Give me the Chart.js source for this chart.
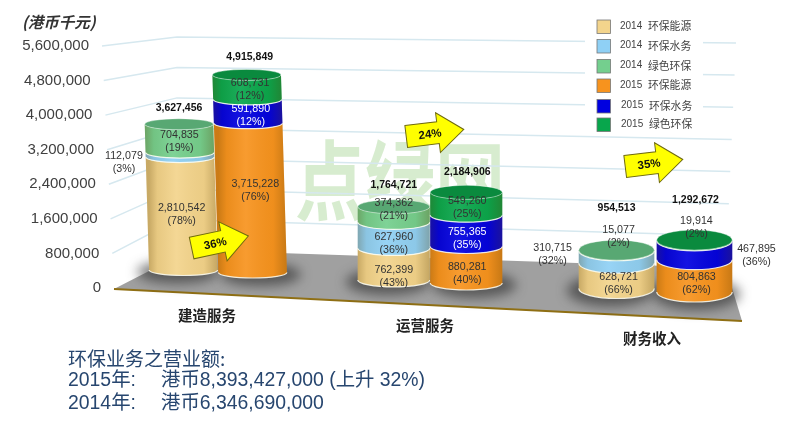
<!DOCTYPE html>
<html>
<head>
<meta charset="utf-8">
<style>
  html, body { margin: 0; padding: 0; background: #fff; }
  #wrap { width: 800px; height: 424px; position: relative; }
</style>
<script src="https://cdn.jsdelivr.net/npm/chart.js@4"></script>
</head>
<body>
<div id="wrap"><canvas id="c"></canvas></div>
<script>
// Data
const categories = ['建造服务', '运营服务', '财务收入'];
const yTicks = [0, 800000, 1600000, 2400000, 3200000, 4000000, 4800000, 5600000];

const energy2014 = [2810542, 762399, 628721];
const water2014 = [112079, 627960, 310715];
const green2014 = [704835, 374362, 15077];
const energy2015 = [3715228, 880281, 804863];
const water2015 = [591890, 755365, 467895];
const green2015 = [608731, 549260, 19914];

const pctEnergy2014 = ['78%', '43%', '66%'];
const pctWater2014 = ['3%', '36%', '32%'];
const pctGreen2014 = ['19%', '21%', '2%'];
const pctEnergy2015 = ['76%', '40%', '62%'];
const pctWater2015 = ['12%', '35%', '36%'];
const pctGreen2015 = ['12%', '25%', '2%'];

const totals2014 = ['3,627,456', '1,764,721', '954,513'];
const totals2015 = ['4,915,849', '2,184,906', '1,292,672'];
const growth = ['36%', '24%', '35%'];

const noteLines = ['环保业务之营业额:', '2015年:', '港币8,393,427,000 (上升 32%)', '2014年:', '港币6,346,690,000'];

// Fake perspective, per category
const floor2014 = [270, 280, 288.5];
const floor2015 = [272.5, 283, 292];
const heightScale = [0.93, 0.96, 0.93];
const ellipseRy = [5.5, 7, 10];
const lean = [0.03, 0, 0];
const catNudge = [0, -8, -2.5];
const sepScale = [0.99, 1.036, 1.114];
const widthScale = [0.98, 1.03, 1.08];
const lift2014 = [16, 22, 42];
const lift2015 = [18, 20, 40];

const FONT = '"Liberation Sans", Arial, sans-serif';
const CJK = '"Noto Sans CJK SC", "Liberation Sans", sans-serif';

// label shift from segment middle, "dataset,category": [dx, dy]
const labelNudge = {
  '0,0': [0, 1], '0,1': [0, 12], '0,2': [2, 8],
  '1,0': [-56, 8], '1,1': [0, 8], '1,2': [-64, -2],
  '2,0': [0, 3.5], '2,1': [0, -5], '2,2': [2, -14],
  '3,0': [5, -7], '3,1': [1, 9], '3,2': [2, 8],
  '4,0': [3, 4], '4,1': [1, 8], '4,2': [62, 5],
  '5,0': [3, 2], '5,1': [1, 4], '5,2': [2, -13]
};

// arrow centre and rotation
const arrows = [
  { x: 220, y: 242, rot: -12 },
  { x: 435, y: 133, rot: -7 },
  { x: 654, y: 163, rot: -7 }
];

function mk(label, data, pct, stack, color, top, labelColor) {
  return { label, data, pct, stack, backgroundColor: color, topColor: top, labelColor };
}

const datasets = [
  mk('2014 环保能源', energy2014, pctEnergy2014, '2014', '#f3d48c', '#e9c97d', ['#333', '#333', '#333']),
  mk('2014 环保水务', water2014, pctWater2014, '2014', '#8fd0f5', '#7cc0e6', ['#333', '#333', '#333']),
  mk('2014 绿色环保', green2014, pctGreen2014, '2014', '#74cf8e', '#58a873', ['#333', '#333', '#333']),
  mk('2015 环保能源', energy2015, pctEnergy2015, '2015', '#f7931e', '#e8851a', ['#333', '#333', '#333']),
  mk('2015 环保水务', water2015, pctWater2015, '2015', '#0000e0', '#0000c0', ['#fff', '#fff', '#333']),
  mk('2015 绿色环保', green2015, pctGreen2015, '2015', '#08a64c', '#0a8a3e', ['#333', '#333', '#333'])
];

// pixel geometry of one segment, from the bar element the library laid out
function geom(chart, dsIndex, i) {
  const el = chart.getDatasetMeta(dsIndex).data[i];
  const xs = chart.scales.x, zero = chart.scales.y.getPixelForValue(0);
  const center = xs.getPixelForValue(i);
  const floor = dsIndex < 3 ? floor2014[i] : floor2015[i];
  const k = heightScale[i];
  const top = floor - (zero - el.y) * k;
  const bot = floor - (zero - el.base) * k;
  const cx0 = center + catNudge[i] + (el.x - center) * sepScale[i];
  return {
    floor, top, bot, cx0,
    rx: el.width * widthScale[i] / 2,
    ry: ellipseRy[i],
    cxTop: cx0 - lean[i] * (floor - top),
    cxBot: cx0 - lean[i] * (floor - bot)
  };
}

function drawSegment(ctx, g, color) {
  const path = () => {
    ctx.beginPath();
    ctx.ellipse(g.cxTop, g.top, g.rx, g.ry, 0, 0, Math.PI, false);
    ctx.lineTo(g.cxBot - g.rx, g.bot);
    ctx.ellipse(g.cxBot, g.bot, g.rx, g.ry, 0, Math.PI, 0, true);
    ctx.closePath();
  };
  path();
  ctx.fillStyle = color;
  ctx.fill();
  const x0 = g.cxBot - g.rx;
  const sh = ctx.createLinearGradient(x0, 0, x0 + g.rx * 2, 0);
  sh.addColorStop(0, 'rgba(90,60,0,0.28)');
  sh.addColorStop(0.12, 'rgba(90,60,0,0.08)');
  sh.addColorStop(0.4, 'rgba(255,255,255,0.08)');
  sh.addColorStop(0.8, 'rgba(90,60,0,0.05)');
  sh.addColorStop(1, 'rgba(90,60,0,0.3)');
  path();
  ctx.fillStyle = sh;
  ctx.fill();
  // light rim along the lower front edge
  ctx.beginPath();
  ctx.ellipse(g.cxBot, g.bot, g.rx, g.ry, 0, 0, Math.PI, false);
  ctx.strokeStyle = 'rgba(255,255,245,0.85)';
  ctx.lineWidth = 1.2;
  ctx.stroke();
}

function drawArrow(ctx, a, text) {
  ctx.save();
  ctx.translate(a.x, a.y);
  ctx.rotate(a.rot * Math.PI / 180);
  ctx.beginPath();
  ctx.moveTo(-29, -11);
  ctx.lineTo(3, -11);
  ctx.lineTo(3, -20);
  ctx.lineTo(29, 0);
  ctx.lineTo(3, 20);
  ctx.lineTo(3, 11);
  ctx.lineTo(-29, 11);
  ctx.closePath();
  ctx.fillStyle = '#ffff00';
  ctx.fill();
  ctx.strokeStyle = '#6f6a10';
  ctx.lineWidth = 1;
  ctx.stroke();
  ctx.fillStyle = '#111';
  ctx.font = 'bold 11.5px ' + FONT;
  ctx.textAlign = 'center';
  ctx.textBaseline = 'middle';
  ctx.fillText(text, -5, 1);
  ctx.restore();
}

const cylinderPlugin = {
  id: 'cylinders',
  beforeDatasetsDraw(chart) {
    const ctx = chart.ctx, ys = chart.scales.y;
    const zero = ys.getPixelForValue(0);

    // watermark
    ctx.save();
    ctx.translate(400, 181);
    ctx.scale(1, 1.25);
    ctx.fillStyle = 'rgba(150,205,130,0.38)';
    ctx.font = 'bold 70px ' + CJK;
    ctx.textAlign = 'center';
    ctx.textBaseline = 'middle';
    ctx.fillText('点绿网', 0, 0);
    ctx.restore();

    // perspective gridlines
    ctx.save();
    ctx.strokeStyle = '#d6e8ef';
    ctx.lineWidth = 1.5;
    ys.ticks.forEach(t => {
      if (t.value === 0) return;
      const y = ys.getPixelForValue(t.value);
      const frac = (zero - y) / (zero - ys.top);
      ctx.beginPath();
      ctx.moveTo(102 + (1 - frac) * 12, y);
      ctx.lineTo(177, 250 - (zero - y) * 0.88);
      ctx.lineTo(726 + frac * 10, 268 - (zero - y) * 0.93);
      ctx.stroke();
    });
    ctx.restore();

    // legend backdrop breaks the top lines
    ctx.fillStyle = '#fff';
    ctx.fillRect(585, 14, 118, 118);

    // floor
    ctx.beginPath();
    ctx.moveTo(114, 289);
    ctx.lineTo(190, 250);
    ctx.lineTo(726, 268);
    ctx.lineTo(742, 321);
    ctx.closePath();
    ctx.fillStyle = '#a0a0a0';
    ctx.fill();
    ctx.beginPath();
    ctx.moveTo(114, 289);
    ctx.lineTo(742, 321);
    ctx.strokeStyle = '#8f6f14';
    ctx.lineWidth = 2;
    ctx.stroke();

    // soft shadows on the floor
    ctx.save();
    ctx.filter = 'blur(6px)';
    ctx.fillStyle = 'rgba(40,40,40,0.6)';
    categories.forEach((c, i) => {
      [0, 3].forEach(d => {
        const g = geom(chart, d, i);
        const off = d === 0 ? -6 : (i === 2 ? 2 : 8);
        ctx.beginPath();
        ctx.ellipse(g.cx0 + off, g.floor + 2, g.rx + 6, g.ry + 6, 0, 0, Math.PI * 2);
        ctx.fill();
      });
    });
    ctx.restore();

    // y tick labels walk right with the wall
    ctx.fillStyle = '#404040';
    ctx.font = '15px ' + FONT;
    ctx.textAlign = 'right';
    ctx.textBaseline = 'middle';
    ys.ticks.forEach(t => {
      const y = ys.getPixelForValue(t.value);
      ctx.fillText(t.value.toLocaleString('en-US'), 89 + (y - ys.top) / (zero - ys.top) * 12, y);
    });
  },
  beforeDatasetDraw() {
    return false; // cylinders are painted below
  },
  afterDatasetsDraw(chart) {
    const ctx = chart.ctx, xs = chart.scales.x;

    categories.forEach((c, i) => {
      [[0, 1, 2], [3, 4, 5]].forEach(group => {
        group.forEach(d => drawSegment(ctx, geom(chart, d, i), chart.data.datasets[d].backgroundColor));
        // top cap
        const last = group[2], g = geom(chart, last, i);
        ctx.beginPath();
        ctx.ellipse(g.cxTop, g.top, g.rx, g.ry, 0, 0, Math.PI * 2);
        ctx.fillStyle = chart.data.datasets[last].topColor;
        ctx.fill();
        ctx.strokeStyle = 'rgba(255,255,255,0.5)';
        ctx.lineWidth = 0.8;
        ctx.stroke();
      });
    });

    // segment labels
    ctx.textAlign = 'center';
    ctx.textBaseline = 'middle';
    ctx.font = '10.7px ' + FONT;
    chart.data.datasets.forEach((ds, d) => {
      ds.data.forEach((v, i) => {
        const g = geom(chart, d, i);
        const n = labelNudge[d + ',' + i];
        const x = (g.cxTop + g.cxBot) / 2 + n[0];
        const y = (g.top + g.bot) / 2 + n[1];
        ctx.fillStyle = ds.labelColor[i];
        ctx.fillText(v.toLocaleString('en-US'), x, y - 6.5);
        ctx.fillText('(' + ds.pct[i] + ')', x, y + 6.5);
      });
    });

    // stack totals
    ctx.font = 'bold 10.5px ' + FONT;
    ctx.fillStyle = '#111';
    categories.forEach((c, i) => {
      const a = geom(chart, 2, i), b = geom(chart, 5, i);
      ctx.fillText(totals2014[i], a.cxTop, a.top - lift2014[i]);
      ctx.fillText(totals2015[i], b.cxTop + (i === 0 ? 3 : 1), b.top - lift2015[i]);
    });

    arrows.forEach((a, i) => drawArrow(ctx, a, growth[i]));

    // category names step down with the floor
    ctx.font = 'bold 14.5px ' + CJK;
    ctx.fillStyle = '#222';
    categories.forEach((c, i) => {
      ctx.fillText(c, xs.getPixelForValue(i) + [-11, -13, -6][i], [315, 325, 338][i]);
    });

    // unit
    ctx.font = 'italic bold 15.5px ' + CJK;
    ctx.textAlign = 'left';
    ctx.fillStyle = '#333';
    ctx.fillText('(港币千元)', 22, 22);

    // legend
    const rowY = [27, 46.5, 66.5, 86, 106.5, 125];
    chart.data.datasets.forEach((ds, d) => {
      ctx.fillStyle = ds.backgroundColor;
      ctx.fillRect(597, rowY[d] - 7, 13.5, 13.5);
      ctx.strokeStyle = '#777';
      ctx.lineWidth = 0.8;
      ctx.strokeRect(597, rowY[d] - 7, 13.5, 13.5);
      const parts = ds.label.split(' ');
      ctx.fillStyle = '#444';
      ctx.font = '10px ' + FONT;
      ctx.fillText(parts[0], d > 3 ? 621 : 620, rowY[d] - 1);
      ctx.font = '10.8px ' + CJK;
      ctx.fillText(parts[1], d > 3 ? 649 : 648, rowY[d] - 1);
    });

    // note under the chart
    ctx.fillStyle = '#27466f';
    ctx.font = '19px ' + CJK;
    ctx.fillText(noteLines[0], 68, 359);
    ctx.font = '19.4px "Liberation Sans", "Noto Sans CJK SC", sans-serif';
    ctx.fillText(noteLines[1], 68, 381);
    ctx.fillText(noteLines[2], 161, 381);
    ctx.fillText(noteLines[3], 68, 404);
    ctx.fillText(noteLines[4], 161, 404);
  }
};

new Chart(document.getElementById('c'), {
  type: 'bar',
  data: { labels: categories, datasets },
  plugins: [cylinderPlugin],
  options: {
    responsive: true,
    maintainAspectRatio: false,
    animation: false,
    events: [],
    layout: { padding: { left: 108, right: 32, top: 46, bottom: 136 } },
    datasets: { bar: { categoryPercentage: 0.636, barPercentage: 1 } },
    plugins: { legend: { display: false }, tooltip: { enabled: false } },
    scales: {
      x: {
        stacked: true,
        afterFit: s => { s.height = 0; },
        grid: { display: false },
        border: { display: false },
        ticks: { display: false }
      },
      y: {
        stacked: true,
        min: 0,
        max: 5600000,
        afterFit: s => { s.width = 0; },
        afterBuildTicks: s => { s.ticks = yTicks.map(v => ({ value: v })); },
        grid: { display: false },
        border: { display: false },
        ticks: { display: false }
      }
    }
  }
});
</script>
</body>
</html>
